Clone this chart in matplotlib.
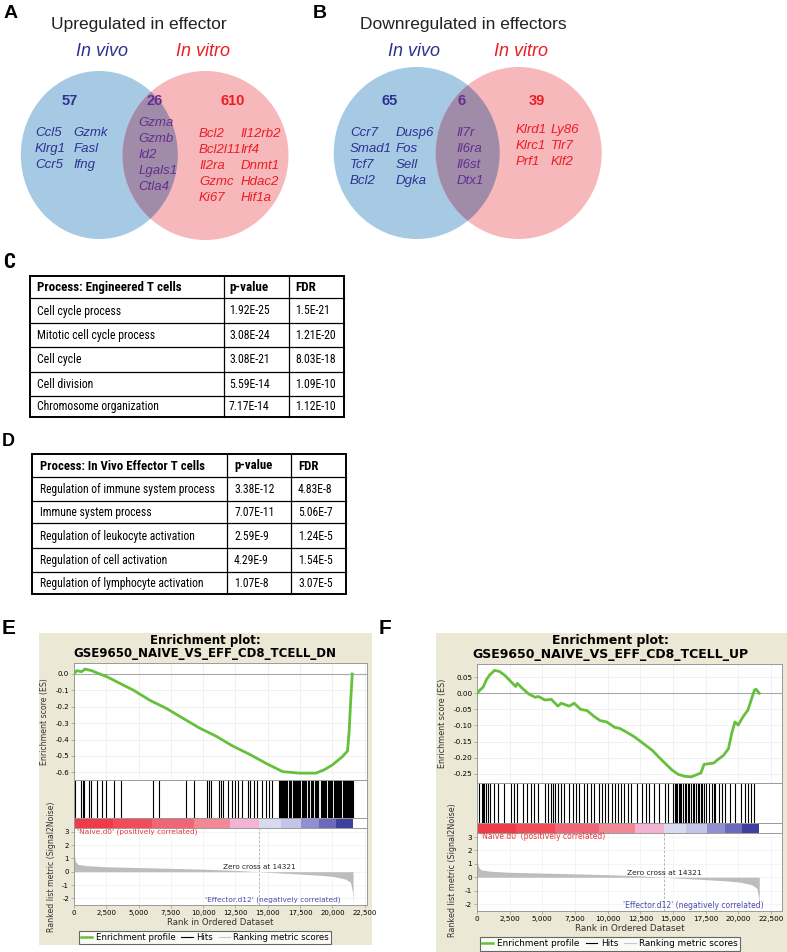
"""Composite figure: Venn diagrams (A, B), GO tables (C, D) and GSEA plots (E, F)."""

import matplotlib

matplotlib.use("Agg")  # headless backend
import matplotlib.pyplot as plt  # noqa: E402
import numpy as np  # noqa: E402
from matplotlib.lines import Line2D  # noqa: E402
from matplotlib.patches import Ellipse, Rectangle  # noqa: E402

plt.rcParams["axes.unicode_minus"] = False

W, H = 787, 952

# ---- A / B: Venn diagrams (in vivo only, shared, in vitro only) ----
UP_COUNTS = [57, 26, 610]
UP_VIVO = [["Ccl5", "Klrg1", "Ccr5"], ["Gzmk", "Fasl", "Ifng"]]
UP_SHARED = ["Gzma", "Gzmb", "Id2", "Lgals1", "Ctla4"]
UP_VITRO = [["Bcl2", "Bcl2l11", "Il2ra", "Gzmc", "Ki67"],
            ["Il12rb2", "Irf4", "Dnmt1", "Hdac2", "Hif1a"]]

DN_COUNTS = [65, 6, 39]
DN_VIVO = [["Ccr7", "Smad1", "Tcf7", "Bcl2"], ["Dusp6", "Fos", "Sell", "Dgka"]]
DN_SHARED = ["Il7r", "Il6ra", "Il6st", "Dtx1"]
DN_VITRO = [["Klrd1", "Klrc1", "Prf1"], ["Ly86", "Tlr7", "Klf2"]]

# ---- C / D: GO enrichment tables ----
C_HEADER = ["Process: Engineered T cells", "p-value", "FDR"]
C_PROCESS = ["Cell cycle process", "Mitotic cell cycle process", "Cell cycle",
             "Cell division", "Chromosome organization"]
C_PVALUE = ["1.92E-25", "3.08E-24", "3.08E-21", "5.59E-14", "7.17E-14"]
C_FDR = ["1.5E-21", "1.21E-20", "8.03E-18", "1.09E-10", "1.12E-10"]

D_HEADER = ["Process: In Vivo Effector T cells", "p-value", "FDR"]
D_PROCESS = ["Regulation of immune system process", "Immune system process",
             "Regulation of leukocyte activation", "Regulation of cell activation",
             "Regulation of lymphocyte activation"]
D_PVALUE = ["3.38E-12", "7.07E-11", "2.59E-9", "4.29E-9", "1.07E-8"]
D_FDR = ["4.83E-8", "5.06E-7", "1.24E-5", "1.54E-5", "3.07E-5"]

# ---- E / F: GSEA ----
ZERO_CROSS = 14321
METRIC_RANK = [0, 30, 100, 300, 1000, 2500, 5000, 7500, 10000, 12500, 14321,
               16000, 17500, 19000, 20000, 21000, 21400, 21550, 21600]
METRIC_VALUE = [1.75, 1.2, 0.8, 0.55, 0.45, 0.37, 0.31, 0.25, 0.19, 0.1, 0.0,
                -0.1, -0.18, -0.27, -0.35, -0.55, -0.8, -1.5, -2.3]
BAR_EDGES = [0, 3000, 6000, 9300, 12100, 14300, 16000, 17600, 19000, 20300, 21600]
BAR_COLORS = ["#ee3b47", "#f14c58", "#f06677", "#f28893", "#f4b3d3",
              "#d9d9f0", "#c4c4e8", "#8f8fd2", "#6a6abd", "#3f3f9e"]

E_ES_RANK = [0, 200, 590, 850, 1370, 2000, 2520, 3550, 4580, 5860, 7150, 8430,
             9720, 11010, 12290, 13580, 14860, 16150, 17430, 18720, 19360,
             20000, 20780, 21170, 21290, 21420, 21540]
E_ES_SCORE = [0.0, 0.02, 0.014, 0.03, 0.02, 0.0, -0.016, -0.057, -0.098, -0.16,
              -0.21, -0.27, -0.33, -0.38, -0.44, -0.49, -0.545, -0.596, -0.605,
              -0.605, -0.585, -0.555, -0.504, -0.47, -0.36, -0.16, 0.0]
E_HITS = [103, 542, 671, 774, 1187, 1342, 1754, 2141, 2477, 3122, 3612, 6089,
          6605, 8643, 9288, 10268, 10449, 10578, 11197, 11378, 11558, 11894,
          12255, 12436, 12668, 13029, 13493, 13622, 13958, 14138, 14577, 14835,
          15067, 15299, 15841, 15920, 15996, 16080, 16151, 16254, 16330, 16409,
          16500, 16615, 16690, 16770, 16925, 17000, 17080, 17150, 17234, 17338,
          17420, 17492, 17621, 17700, 17802, 17880, 17957, 18137, 18220, 18318,
          18400, 18473, 18628, 18700, 18782, 18850, 18911, 19092, 19170, 19247,
          19350, 19430, 19505, 19685, 19750, 19814, 19900, 19969, 20124, 20200,
          20279, 20382, 20460, 20537, 20610, 20692, 20846, 20920, 21001, 21050,
          21104, 21233, 21300, 21362, 21430, 21491, 21530, 21569]

F_ES_RANK = [0, 224, 472, 720, 970, 1342, 1715, 2090, 2461, 2958, 3083, 3455,
             3953, 4450, 4700, 5196, 5693, 6190, 6440, 7060, 7433, 7930, 8430,
             8925, 9422, 9920, 10540, 10913, 11410, 12032, 12654, 13400, 14146,
             14891, 15388, 15886, 16383, 16756, 17129, 17377, 17750, 18123,
             18372, 18869, 19242, 19490, 19739, 19988, 20360, 20733, 20982,
             21230, 21355, 21600]
F_ES_SCORE = [0.0, 0.010, 0.019, 0.042, 0.057, 0.071, 0.068, 0.057, 0.042,
              0.021, 0.031, 0.016, -0.002, -0.0125, -0.010, -0.021, -0.019,
              -0.040, -0.031, -0.040, -0.031, -0.050, -0.054, -0.071, -0.085,
              -0.089, -0.106, -0.109, -0.120, -0.135, -0.154, -0.177, -0.208,
              -0.2375, -0.252, -0.258, -0.260, -0.254, -0.248, -0.221, -0.219,
              -0.217, -0.208, -0.193, -0.172, -0.125, -0.089, -0.099, -0.073,
              -0.052, -0.021, 0.010, 0.0125, 0.0]
F_HITS = [174, 348, 450, 522, 721, 860, 970, 1268, 1591, 2088, 2585, 2834,
          3083, 3530, 3828, 4127, 4375, 4699, 5196, 5444, 5693, 5820, 5942,
          6190, 6439, 6687, 7060, 7309, 7557, 7806, 8179, 8428, 8726, 8974,
          9298, 9546, 9795, 10043, 10367, 10541, 10789, 11038, 11286, 11535,
          11784, 12281, 12604, 12903, 13151, 13524, 13897, 14394, 14643, 15000,
          15140, 15250, 15339, 15430, 15513, 15640, 15762, 15880, 16010, 16130,
          16259, 16380, 16508, 16630, 16756, 16880, 17005, 17130, 17253, 17380,
          17502, 17751, 17999, 18120, 18247, 18496, 18744, 18993, 19366, 19739,
          20236, 20485, 20734, 20982, 21231]

BLUE_FILL, RED_FILL, MIX_FILL = "#a6cae4", "#f7b8bb", "#a08ba8"
BLUE_TXT, RED_TXT, PURPLE_TXT = "#2e3192", "#ed1c24", "#662d91"
ARIAL = ["Liberation Sans", "DejaVu Sans"]
NARROW = ["Roboto Condensed", "Fira Sans Condensed", "PT Sans Narrow",
          "Asap Condensed", "Liberation Sans", "DejaVu Sans"]
GREEN = "#66c03c"
FRAME = "#9a9a9a"
BEIGE = "#ebe8d6"


def px_axes(fig, x0, y0, x1, y1):
    """Axes placed by pixel box (top-left origin)."""
    return fig.add_axes([x0 / W, 1 - y1 / H, (x1 - x0) / W, (y1 - y0) / H])


def draw_venn(ax, lay, title, counts, vivo, shared, vitro):
    blue = Ellipse(lay["blue"][:2], *lay["blue"][2:], color=BLUE_FILL, lw=0)
    red = Ellipse(lay["red"][:2], *lay["red"][2:], color=RED_FILL, lw=0)
    ax.add_patch(blue)
    ax.add_patch(red)
    both = Ellipse(lay["red"][:2], *lay["red"][2:], color=MIX_FILL, lw=0)
    ax.add_patch(both)
    both.set_clip_path(blue)

    ax.text(*lay["title"], title, fontsize=12.5, family=ARIAL,
            ha="center", va="center", color="#222222")
    ax.text(*lay["vivo"], "In vivo", fontsize=13, style="italic", family=ARIAL,
            ha="center", va="center", color=BLUE_TXT)
    ax.text(*lay["vitro"], "In vitro", fontsize=13, style="italic", family=ARIAL,
            ha="center", va="center", color=RED_TXT)

    for x, n, c in zip(lay["count_x"], counts, [BLUE_TXT, PURPLE_TXT, RED_TXT]):
        ax.text(x, lay["count_y"], str(n), fontsize=10.5, fontweight="bold",
                family=ARIAL, ha="center", va="center", color=c)

    step = 16
    groups = [(vivo, lay["vivo_x"], lay["vivo_y"], BLUE_TXT),
              ([shared], [lay["shared_x"]], lay["shared_y"], PURPLE_TXT),
              (vitro, lay["vitro_x"], lay["vitro_y"], RED_TXT)]
    for cols, xs, y0, color in groups:
        for col, x in zip(cols, xs):
            for i, gene in enumerate(col):
                ax.text(x, y0 + i * step, gene, fontsize=9.5, style="italic",
                        family=ARIAL, ha="left", va="center", color=color)


def draw_table(ax, col_x, row_y, text_x, header, columns):
    """Draw a boxed table; return (header texts, body texts)."""
    last = len(row_y) - 1
    for i, y in enumerate(row_y):
        lw = 1.4 if i in (0, last) else 0.9
        ax.plot([col_x[0], col_x[-1]], [y, y], color="black", lw=lw,
                solid_capstyle="projecting")
    for j, x in enumerate(col_x):
        lw = 1.4 if j in (0, len(col_x) - 1) else 0.9
        ax.plot([x, x], [row_y[0], row_y[-1]], color="black", lw=lw,
                solid_capstyle="projecting")
    yc = (row_y[0] + row_y[1]) / 2 + 0.5
    head = [ax.text(x, yc, label, fontsize=10, fontweight="bold", family=NARROW,
                    ha="left", va="center", color="black")
            for x, label in zip(text_x, header)]
    body = []
    for i, row in enumerate(zip(*columns)):
        yc = (row_y[i + 2] + row_y[i + 1]) / 2 + 0.5
        for x, val in zip(text_x, row):
            body.append(ax.text(x, yc, val, fontsize=10, family=NARROW,
                                ha="left", va="center", color="black"))
    return head, body


def fit_texts(fig, texts, ref, target_px):
    """Scale a group of texts so that ``ref`` spans ``target_px`` pixels."""
    renderer = fig.canvas.get_renderer()
    width = ref.get_window_extent(renderer=renderer).width
    size = ref.get_fontsize() * target_px / width
    for t in texts:
        t.set_fontsize(size)


def style_frame(ax):
    for sp in ax.spines.values():
        sp.set_color(FRAME)
        sp.set_linewidth(0.7)


def draw_gsea(fig, lay, name, es_rank, es_score, hits, es_ticks, es_fmt):
    x0, x1 = lay["x"]
    y_top, y_es, y_hit, y_bar, y_met = lay["y"]
    xmax = lay["xmax"]
    fs = lay["fs"]

    fig.text(lay["title_x"] / W, 1 - lay["title_y"][0] / H, "Enrichment plot:",
             fontsize=lay["title_fs"], fontweight="bold", ha="center", va="center")
    fig.text(lay["title_x"] / W, 1 - lay["title_y"][1] / H, name,
             fontsize=lay["title_fs"], fontweight="bold", ha="center", va="center")

    # running enrichment score
    ax = px_axes(fig, x0, y_top, x1, y_es)
    ax.plot(es_rank, es_score, color=GREEN, lw=2.0, zorder=3)
    ax.axhline(0, color="#a8a8a8", lw=0.8, zorder=2)
    ax.set_xlim(0, xmax)
    ax.set_ylim(*lay["es_ylim"])
    ax.set_xticks(range(0, 22501, 2500))
    ax.set_yticks(es_ticks)
    ax.set_yticklabels([es_fmt.format(t) for t in es_ticks])
    ax.tick_params(axis="x", labelbottom=False, length=0)
    ax.tick_params(axis="y", labelsize=fs, length=2, width=0.5, color=FRAME, pad=1.5)
    ax.grid(color="#ececec", lw=0.5)
    ax.set_axisbelow(True)
    ax.set_ylabel("Enrichment score (ES)", fontsize=fs + 0.6, color="#333333")
    ax.yaxis.set_label_coords(lay["es_lab"], 0.5)
    style_frame(ax)

    # hits + ranked-list colour bar
    ax = px_axes(fig, x0, y_es, x1, y_bar)
    frac = (y_bar - y_hit) / (y_bar - y_es)
    ax.vlines(hits, frac, 1, color="black", lw=0.8)
    ax.bar(BAR_EDGES[:-1], frac, width=np.diff(BAR_EDGES), align="edge",
           color=BAR_COLORS, lw=0)
    ax.axhline(frac, color=FRAME, lw=0.7)
    ax.set_xlim(0, xmax)
    ax.set_ylim(0, 1)
    ax.set_xticks([])
    ax.set_yticks([])
    style_frame(ax)
    ax.spines["bottom"].set_visible(False)

    # ranked list metric
    ax = px_axes(fig, x0, y_bar, x1, y_met)
    ax.fill_between(METRIC_RANK, METRIC_VALUE, 0, color="#bdbdbd", lw=0)
    ax.axvline(ZERO_CROSS, color="#a8a8a8", ls=(0, (3, 2)), lw=0.6)
    ax.set_xlim(0, xmax)
    ax.set_ylim(*lay["met_ylim"])
    ax.set_yticks(range(-2, 4))
    xt = list(range(0, 22501, 2500))
    ax.set_xticks(xt)
    ax.set_xticklabels([f"{t:,}" for t in xt])
    ax.tick_params(labelsize=fs, length=2, width=0.5, color=FRAME, pad=1.5)
    ax.grid(color="#f0f0f0", lw=0.5)
    ax.set_axisbelow(True)
    ax.text(0.01, 0.95, "'Naive.d0' (positively correlated)", transform=ax.transAxes,
            fontsize=fs + 0.3, color="#e8343c", ha="left", va="center")
    ax.text(lay["neg_x"], 0.07, "'Effector.d12' (negatively correlated)",
            transform=ax.transAxes, fontsize=fs + 0.3, color="#4a4aae",
            ha="right", va="center")
    ax.text(ZERO_CROSS, lay["zc_y"], f"Zero cross at {ZERO_CROSS}", fontsize=fs + 0.2,
            ha="center", va="center", color="#222222")
    ax.set_xlabel("Rank in Ordered Dataset", fontsize=fs + 1.2, color="#333333",
                  labelpad=1.5)
    ax.set_ylabel("Ranked list metric (Signal2Noise)", fontsize=fs + 0.6,
                  color="#333333")
    ax.yaxis.set_label_coords(lay["met_lab"][0], lay["met_lab"][1])
    style_frame(ax)

    handles = [Line2D([], [], color=GREEN, lw=1.8),
               Line2D([], [], color="black", lw=0.8),
               Line2D([], [], color="#c8c8c8", lw=0.8)]
    leg = fig.legend(handles, ["Enrichment profile", "Hits", "Ranking metric scores"],
                     loc="center", ncol=3,
                     bbox_to_anchor=(lay["legend"][0] / W, 1 - lay["legend"][1] / H),
                     fontsize=fs + 1.2, frameon=True, fancybox=False,
                     edgecolor="#444444", handlelength=1.3, handletextpad=0.4,
                     columnspacing=0.7, borderpad=0.25, borderaxespad=0)
    leg.get_frame().set_linewidth(0.8)


def main():
    fig = plt.figure(figsize=(W / 100, H / 100), dpi=100)
    bg = fig.add_axes([0, 0, 1, 1])
    bg.set_xlim(0, W)
    bg.set_ylim(H, 0)
    bg.axis("off")

    # panel letters
    for letter, x, y, fs, fam in [("A", 11, 13, 14, ARIAL), ("B", 320, 13, 14, ARIAL),
                                  ("C", 9, 262, 15, NARROW), ("D", 8, 442, 13, ARIAL),
                                  ("E", 9, 629, 15, ARIAL), ("F", 385, 629, 15, ARIAL)]:
        bg.text(x, y, letter, fontsize=fs, fontweight="bold", family=fam,
                ha="center", va="center")

    draw_venn(bg, dict(blue=(99.3, 155, 157, 168), red=(205.5, 155.5, 166, 169),
                       title=(138.5, 25), vivo=(102, 52), vitro=(203, 52),
                       count_x=[69.3, 155, 233], count_y=101,
                       vivo_x=[35, 73.3], vivo_y=133.3,
                       shared_x=138.3, shared_y=123.3,
                       vitro_x=[199, 240.7], vitro_y=134.3),
              "Upregulated in effector", UP_COUNTS, UP_VIVO, UP_SHARED, UP_VITRO)
    draw_venn(bg, dict(blue=(416.7, 153, 166, 172), red=(518.7, 153, 166, 172),
                       title=(463, 25), vivo=(413.5, 52), vitro=(520.5, 52),
                       count_x=[390, 462, 537], count_y=101,
                       vivo_x=[350, 395.7], vivo_y=133.3,
                       shared_x=456.7, shared_y=133.3,
                       vitro_x=[515.7, 551], vitro_y=130),
              "Downregulated in effectors", DN_COUNTS, DN_VIVO, DN_SHARED, DN_VITRO)

    c_head, c_body = draw_table(bg, [30, 224, 289, 344],
                                [276, 298.3, 322.7, 346.7, 371.7, 395.7, 416.7],
                                [37, 229, 295], C_HEADER, [C_PROCESS, C_PVALUE, C_FDR])
    d_head, d_body = draw_table(bg, [32, 227, 291, 346],
                                [454.3, 476.7, 501, 523.3, 548.3, 571.7, 594.3],
                                [40, 234, 298], D_HEADER, [D_PROCESS, D_PVALUE, D_FDR])
    # match the condensed lettering widths of the reference tables
    fit_texts(fig, c_head, c_head[0], 145)
    fit_texts(fig, c_body, c_body[12], 123)
    fit_texts(fig, d_head, d_head[0], 164)
    fit_texts(fig, d_body, d_body[0], 175)

    bg.add_patch(Rectangle((39, 633), 333, 312, color=BEIGE, lw=0))
    bg.add_patch(Rectangle((436, 633), 360, 330, color=BEIGE, lw=0))

    draw_gsea(fig, dict(x=(74, 367), y=(663, 780, 818, 828, 905), xmax=22680,
                        fs=5.0, title_x=205, title_y=(640.5, 654), title_fs=8.5,
                        es_ylim=(-0.647, 0.067), met_ylim=(-2.5, 3.28),
                        es_lab=-0.085, met_lab=(-0.061, 0.49), neg_x=0.91,
                        zc_y=0.35, legend=(205, 937.5)),
              "GSE9650_NAIVE_VS_EFF_CD8_TCELL_DN", E_ES_RANK, E_ES_SCORE, E_HITS,
              [0.0, -0.1, -0.2, -0.3, -0.4, -0.5, -0.6], "{:.1f}")
    draw_gsea(fig, dict(x=(477, 782), y=(664, 783, 823, 833, 911), xmax=23340,
                        fs=5.2, title_x=610, title_y=(640.5, 654.5), title_fs=9.0,
                        es_ylim=(-0.279, 0.091), met_ylim=(-2.52, 3.3),
                        es_lab=-0.099, met_lab=(-0.067, 0.53), neg_x=0.94,
                        zc_y=0.35, legend=(610, 944)),
              "GSE9650_NAIVE_VS_EFF_CD8_TCELL_UP", F_ES_RANK, F_ES_SCORE, F_HITS,
              [0.05, 0.0, -0.05, -0.1, -0.15, -0.2, -0.25], "{:.2f}")

    fig.savefig("out.png", dpi=100)
    plt.close(fig)


if __name__ == "__main__":
    main()
